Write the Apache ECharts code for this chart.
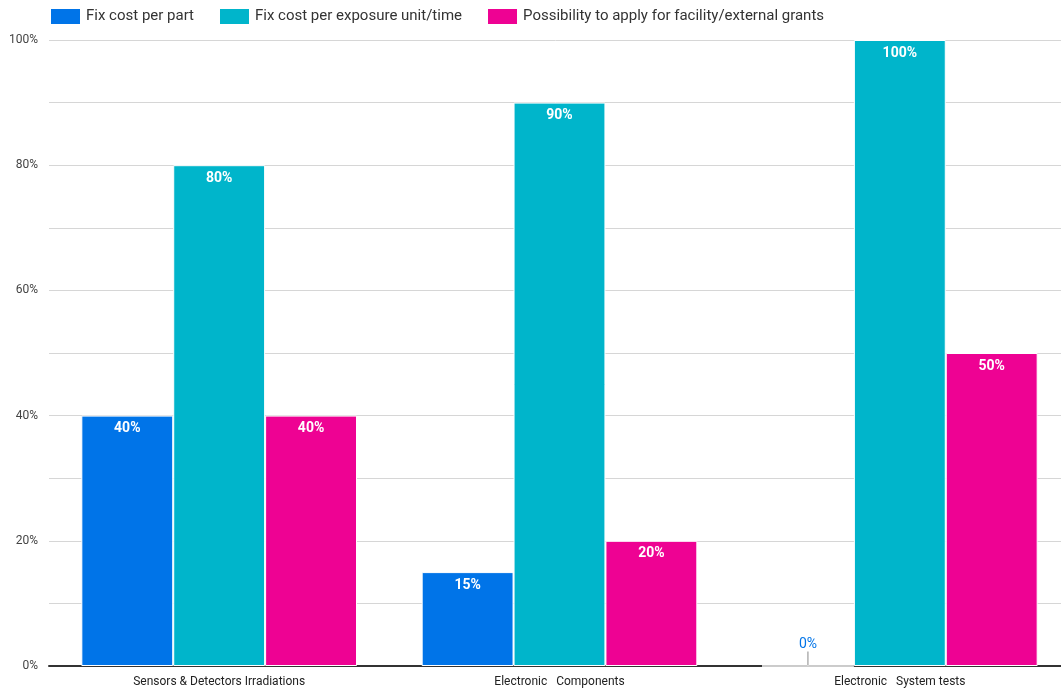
<!DOCTYPE html>
<html>
<head>
<meta charset="utf-8">
<script src="https://cdn.jsdelivr.net/npm/echarts@6/dist/echarts.min.js"></script>
<style>
  html, body { margin: 0; padding: 0; background: #fff; }
  #chart { width: 1061px; height: 691px; }
</style>
</head>
<body>
<div id="chart"></div>
<script>
// Categories and percentage values per pricing model
const categories = ['Sensors & Detectors Irradiations', 'Electronic   Components', 'Electronic   System tests'];
const seriesNames = ['Fix cost per part', 'Fix cost per exposure unit/time', 'Possibility to apply for facility/external grants'];
const fixCostPerPart = [40, 15, 0];
const fixCostPerExposure = [80, 90, 100];
const facilityGrants = [40, 20, 50];
const colors = ['#0074e8', '#00b5cb', '#ee0293'];

const chart = echarts.init(document.getElementById('chart'));

function makeSeries(name, data, color) {
  return {
    name: name,
    type: 'bar',
    data: data.map(v => {
      if (v === 0) {
        // zero-height bar: label sits above, tied to the baseline by a guide line
        return {
          value: v,
          label: { position: 'top', color: color, fontWeight: 'normal', distance: 2 }
        };
      }
      return v;
    }),
    itemStyle: { color: color, borderColor: '#fff', borderWidth: 1 },
    barGap: '0%',
    barCategoryGap: '19%',
    label: {
      show: true,
      position: 'insideTop',
      distance: 6,
      color: '#fff',
      fontWeight: 'bold',
      fontSize: 14,
      fontFamily: 'Roboto',
      formatter: p => p.value + '%'
    },
    labelLine: { show: true, lineStyle: { color: '#888', width: 1 } },
    labelLayout: p => (data[p.dataIndex] === 0 ? { dy: -12 } : {})
  };
}

chart.setOption({
  animation: false,
  textStyle: { fontFamily: 'Roboto' },
  color: colors,
  legend: {
    top: 7,
    left: 49,
    padding: 0,
    itemWidth: 31,
    itemHeight: 17,
    itemGap: 24,
    icon: 'rect',
    textStyle: { fontSize: 15, color: '#333', fontFamily: 'Roboto' },
    data: seriesNames
  },
  grid: { left: 49, width: 1021, top: 40, bottom: 25, containLabel: false, outerBoundsMode: 'none' },
  xAxis: {
    type: 'category',
    data: categories,
    axisLine: { lineStyle: { color: '#333', width: 2 } },
    axisTick: { show: false },
    axisLabel: { color: '#222', fontSize: 12, margin: 10 }
  },
  yAxis: {
    type: 'value',
    min: 0,
    max: 100,
    interval: 10,
    axisLine: { show: false },
    axisTick: { show: false },
    axisLabel: {
      color: '#444',
      fontSize: 12,
      margin: 11,
      formatter: v => (v % 20 === 0 ? v + '%' : '')
    },
    splitLine: { lineStyle: { color: '#d6d6d6', width: 1 } }
  },
  series: [
    makeSeries(seriesNames[0], fixCostPerPart, colors[0]),
    makeSeries(seriesNames[1], fixCostPerExposure, colors[1]),
    makeSeries(seriesNames[2], facilityGrants, colors[2])
  ]
});
</script>
</body>
</html>
